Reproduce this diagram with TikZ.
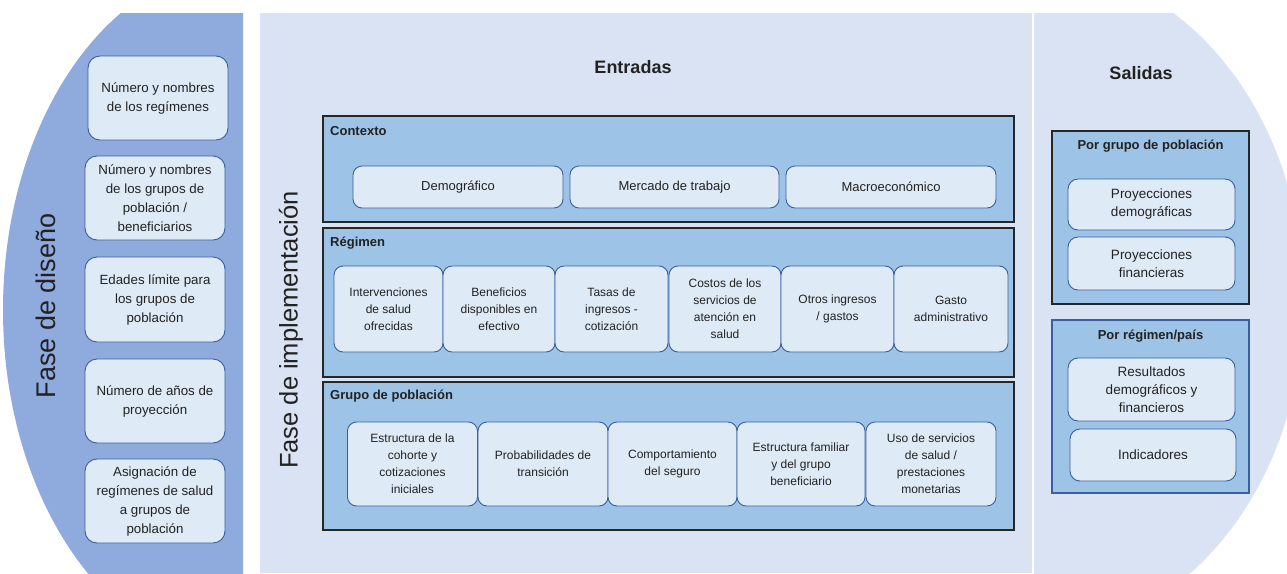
\documentclass[tikz,border=0pt]{standalone}
\usepackage{fontspec}
\setmainfont{Liberation Sans}
\definecolor{leftblue}{HTML}{8FAADC}
\definecolor{lightbg}{HTML}{DAE3F3}
\definecolor{secblue}{HTML}{9DC3E6}
\definecolor{innerfill}{HTML}{DEEAF6}
\definecolor{bordblue}{HTML}{3A5FA0}
\definecolor{txt}{HTML}{222222}
\begin{document}
\begin{tikzpicture}[x=1pt,y=-1pt,
  ibox/.style={draw=bordblue, fill=innerfill, rounded corners=9pt, line width=0.9pt,
    align=center, inner sep=0pt, outer sep=0pt, text=txt},
  lbox/.style={ibox, rounded corners=12pt, minimum width=140pt, minimum height=84pt,
    font=\fontsize{13.3}{19}\selectfont},
  rbox/.style={ibox, font=\fontsize{12}{17}\selectfont},
  cbox/.style={ibox, minimum height=42pt, font=\fontsize{13}{17}\selectfont},
  obox/.style={ibox, rounded corners=10pt, font=\fontsize{13.5}{18}\selectfont},
  secbox/.style={draw=black!85, fill=secblue, line width=1.1pt, inner sep=0pt, outer sep=0pt},
  sectitle/.style={font=\bfseries\fontsize{13}{16}\selectfont, text=txt, inner sep=0pt},
  bigtitle/.style={font=\bfseries\fontsize{18}{22}\selectfont, text=txt, inner sep=0pt},
  phase/.style={rotate=90, text=txt, inner sep=0pt}]
\useasboundingbox (0,0) rectangle (1287,573);

% panels
\begin{scope}
  \clip (0,13) rectangle (243,573);
  \fill[leftblue] (243,310) ellipse [x radius=240, y radius=345];
\end{scope}
\fill[lightbg] (260,13) rectangle (1031.5,573);
\begin{scope}
  \clip (1034,13) rectangle (1287,573);
  \fill[lightbg] (1034,300) ellipse [x radius=270, y radius=335];
\end{scope}

% phase titles
\node[phase, font=\fontsize{27}{31}\selectfont] (fd) at (46,306) {Fase de diseño};
\node[phase, font=\fontsize{25.5}{30}\selectfont] (fi) at (291,330) {Fase de implementación};

% left boxes
\node[lbox] (l1) at (158,98) {Número y nombres\\de los regímenes};
\node[lbox] (l2) at (155,198) {Número y nombres\\de los grupos de\\población /\\beneficiarios};
\node[lbox, minimum height=85pt] (l3) at (155,299.5) {Edades límite para\\los grupos de\\población};
\node[lbox] (l4) at (155,401) {Número de años de\\proyección};
\node[lbox] (l5) at (155,501) {Asignación de\\regímenes de salud\\a grupos de\\población};

% Entradas
\node[bigtitle] (ent) at (633,67) {Entradas};

\node[secbox, minimum width=691pt, minimum height=106pt] (ctx) at (668.5,169) {};
\node[sectitle, anchor=west] (ctxt) at (330,131) {Contexto};
\node[cbox, minimum width=210pt] (c1) at (458,187) {Demográfico};
\node[cbox, minimum width=209pt] (c2) at (674.5,187) {Mercado de trabajo};
\node[cbox, minimum width=210pt] (c3) at (891,187) {Macroeconómico};

\node[secbox, minimum width=691pt, minimum height=149pt] (reg) at (668.5,302.5) {};
\node[sectitle, anchor=west] (regt) at (330,243) {Régimen};
\node[rbox, minimum width=109pt, minimum height=86pt] (r1) at (388.5,309) {Intervenciones\\de salud\\ofrecidas};
\node[rbox, minimum width=112pt, minimum height=86pt] (r2) at (499,309) {Beneficios\\disponibles en\\efectivo};
\node[rbox, minimum width=113pt, minimum height=86pt] (r3) at (611.5,309) {Tasas de\\ingresos -\\cotización};
\node[rbox, minimum width=112pt, minimum height=86pt] (r4) at (725,309) {Costos de los\\servicios de\\atención en\\salud};
\node[rbox, minimum width=113pt, minimum height=86pt] (r5) at (837.5,309) {Otros ingresos\\/ gastos};
\node[rbox, minimum width=114pt, minimum height=86pt] (r6) at (951,309) {Gasto\\administrativo};

\node[secbox, minimum width=691pt, minimum height=148pt] (grp) at (668.5,456) {};
\node[sectitle, anchor=west] (grpt) at (330,396) {Grupo de población};
\node[rbox, minimum width=130pt, minimum height=84pt] (g1) at (412.5,464) {Estructura de la\\cohorte y\\cotizaciones\\iniciales};
\node[rbox, minimum width=130pt, minimum height=84pt] (g2) at (543,464) {Probabilidades de\\transición};
\node[rbox, minimum width=129pt, minimum height=84pt] (g3) at (672.5,464) {Comportamiento\\del seguro};
\node[rbox, minimum width=128pt, minimum height=84pt] (g4) at (801,464) {Estructura familiar\\y del grupo\\beneficiario};
\node[rbox, minimum width=130pt, minimum height=84pt] (g5) at (931,464) {Uso de servicios\\de salud /\\prestaciones\\monetarias};

% Salidas
\node[bigtitle] (sal) at (1141,73) {Salidas};

\node[secbox, minimum width=197pt, minimum height=173pt] (pg) at (1150.5,217.5) {};
\node[sectitle] (pgt) at (1150.5,146) {Por grupo de población};
\node[obox, minimum width=167pt, minimum height=51pt] (o1) at (1151.5,204.5) {Proyecciones\\demográficas};
\node[obox, minimum width=167pt, minimum height=53pt] (o2) at (1151.5,263.5) {Proyecciones\\financieras};

\node[secbox, draw=bordblue, minimum width=197pt, minimum height=173pt] (pr) at (1150.5,406.5) {};
\node[sectitle] (prt) at (1150.5,336) {Por régimen/país};
\node[obox, minimum width=167pt, minimum height=63pt] (o3) at (1151.5,389.5) {Resultados\\demográficos y\\financieros};
\node[obox, minimum width=166pt, minimum height=52pt] (o4) at (1153,455) {Indicadores};
\end{tikzpicture}
\end{document}
